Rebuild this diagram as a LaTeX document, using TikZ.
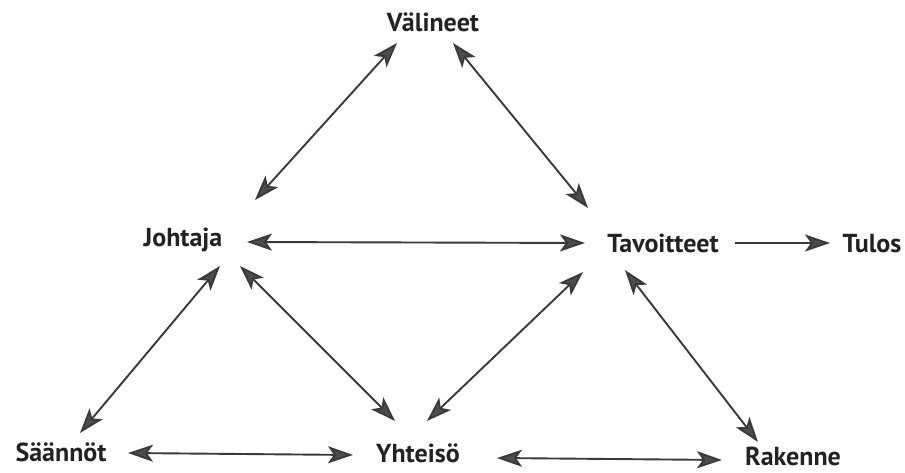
\documentclass[tikz,border=0pt]{standalone}
\usepackage{fontspec}
\setmainfont{PT Sans}
\usetikzlibrary{arrows.meta,calc}
\definecolor{ink}{HTML}{222222}
\definecolor{linecol}{HTML}{3A3A3A}
\definecolor{headcol}{HTML}{4C4C4C}
\tikzset{
  concept/.style={font=\bfseries\fontsize{26}{30}\selectfont, text=ink, inner sep=0pt, anchor=base},
  tip/.tip={Stealth[length=25pt,width=17pt,inset=6pt,fill=headcol]},
  link/.style={draw=linecol, line width=1.9pt, {tip}-{tip}},
  oneway/.style={draw=linecol, line width=1.9pt, -{tip}},
}
\begin{document}
\begin{tikzpicture}[x=1pt,y=1pt]
  \useasboundingbox (0,0) rectangle (905,473);
  \fill[white] (0,0) rectangle (905,473);

  % concepts
  \node[concept] (v)  at (433,441) {Välineet};
  \node[concept] (j)  at (183,226) {Johtaja};
  \node[concept] (t)  at (663,220) {Tavoitteet};
  \node[concept] (tu) at (872,220) {Tulos};
  \node[concept] (s)  at (61,11)   {Säännöt};
  \node[concept] (y)  at (418,10)  {Yhteisö};
  \node[concept] (r)  at (793,7)   {Rakenne};

  % relations
  \draw[link] ($(v.base)+(-36,-11)$) -- ($(j.base)+(72,47)$);
  \draw[link] ($(v.base)+(20,-11)$)  -- ($(t.base)+(-75,45)$);
  \draw[link] ($(j.base)+(64,5)$)    -- ($(t.base)+(-78,10)$);
  \draw[oneway] ($(t.base)+(72,10)$) -- ($(tu.base)+(-42,10)$);
  \draw[link] ($(j.base)+(37,-19)$)  -- ($(s.base)+(19,29)$);
  \draw[link] ($(j.base)+(57,-19)$)  -- ($(y.base)+(-23,42)$);
  \draw[link] ($(t.base)+(-80,-19)$) -- ($(y.base)+(9,42)$);
  \draw[link] ($(t.base)+(-38,-17)$) -- ($(r.base)+(-35,24)$);
  \draw[link] ($(s.base)+(67,9)$)    -- ($(y.base)+(-65,8)$);
  \draw[link] ($(y.base)+(79,5)$)    -- ($(r.base)+(-71,6)$);
\end{tikzpicture}
\end{document}
